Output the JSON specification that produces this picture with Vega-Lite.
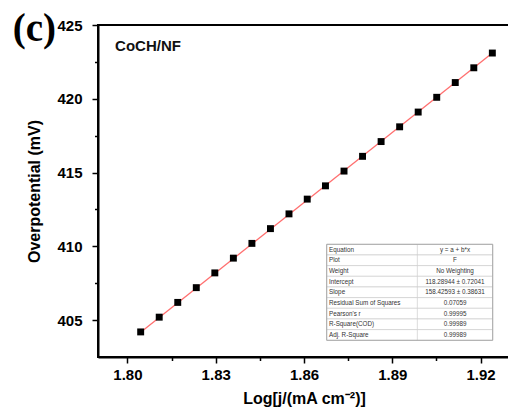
{
  "$schema": "https://vega.github.io/schema/vega-lite/v6.json",
  "width": 412,
  "height": 332,
  "autosize": {"type": "none"},
  "padding": {"left": 98, "top": 25, "right": 0, "bottom": 62},
  "background": "white",
  "config": {
    "view": {"stroke": "black", "strokeWidth": 2},
    "axis": {
      "labelFont": "Liberation Sans", "labelFontWeight": "bold", "labelFontSize": 15, "labelColor": "black",
      "titleFont": "Liberation Sans", "titleFontWeight": "bold", "titleFontSize": 16, "titleColor": "black",
      "domainColor": "black", "domainWidth": 2, "tickColor": "black", "tickWidth": 1.5, "grid": false
    }
  },
  "datasets": {
    "pts": [
      {"logj": 1.8045, "eta": 404.2}, {"logj": 1.8108, "eta": 405.2}, {"logj": 1.8171, "eta": 406.2},
      {"logj": 1.8234, "eta": 407.2}, {"logj": 1.8297, "eta": 408.2}, {"logj": 1.8360, "eta": 409.2},
      {"logj": 1.8423, "eta": 410.2}, {"logj": 1.8486, "eta": 411.2}, {"logj": 1.8549, "eta": 412.2},
      {"logj": 1.8611, "eta": 413.2}, {"logj": 1.8673, "eta": 414.1}, {"logj": 1.8736, "eta": 415.1},
      {"logj": 1.8799, "eta": 416.1}, {"logj": 1.8862, "eta": 417.1}, {"logj": 1.8925, "eta": 418.1},
      {"logj": 1.8988, "eta": 419.1}, {"logj": 1.9051, "eta": 420.1}, {"logj": 1.9114, "eta": 421.1},
      {"logj": 1.9177, "eta": 422.1}, {"logj": 1.9240, "eta": 423.1}
    ],
    "fit": [{"logj": 1.8045, "eta": 404.17}, {"logj": 1.9240, "eta": 423.10}],
    "table": [
      {"name": "Equation", "value": "y = a + b*x"},
      {"name": "Plot", "value": "F"},
      {"name": "Weight", "value": "No Weighting"},
      {"name": "Intercept", "value": "118.28944 ± 0.72041"},
      {"name": "Slope", "value": "158.42593 ± 0.38631"},
      {"name": "Residual Sum of Squares", "value": "0.07059"},
      {"name": "Pearson's r", "value": "0.99995"},
      {"name": "R-Square(COD)", "value": "0.99989"},
      {"name": "Adj. R-Square", "value": "0.99989"}
    ]
  },
  "layer": [
    {
      "layer": [
        {
          "data": {"name": "fit"},
          "mark": {"type": "line", "color": "#ff6f6f", "strokeWidth": 1.3},
          "encoding": {
            "x": {"field": "logj", "type": "quantitative", "scale": {"domain": [1.79, 1.93], "nice": false, "zero": false},
                  "axis": {"orient": "bottom", "values": [1.80, 1.815, 1.83, 1.845, 1.86, 1.875, 1.89, 1.905, 1.92],
                           "labelExpr": "round(datum.value*100) % 3 == 0 ? format(datum.value, '.2f') : ''",
                           "tickSize": {"condition": {"test": "round(datum.value*100) % 3 == 0", "value": 6}, "value": 3.5},
                           "labelPadding": 4, "title": "Log[j/(mA cm⁻²)]", "titlePadding": 8}},
            "y": {"field": "eta", "type": "quantitative", "scale": {"domain": [402.5, 425], "nice": false, "zero": false},
                  "axis": {"orient": "left", "values": [405, 407.5, 410, 412.5, 415, 417.5, 420, 422.5, 425],
                           "labelExpr": "datum.value % 5 == 0 ? datum.label : ''",
                           "tickSize": {"condition": {"test": "datum.value % 5 == 0", "value": 6}, "value": 3.5},
                           "labelPadding": 10, "title": "Overpotential (mV)", "titlePadding": 14}}
          }
        },
        {
          "data": {"name": "pts"},
          "mark": {"type": "square", "color": "black", "filled": true, "opacity": 1, "size": 48},
          "encoding": {
            "x": {"field": "logj", "type": "quantitative", "scale": {"domain": [1.79, 1.93], "nice": false, "zero": false}, "axis": null},
            "y": {"field": "eta", "type": "quantitative", "scale": {"domain": [402.5, 425], "nice": false, "zero": false}, "axis": null}
          }
        },
        {
          "data": {"values": [{"label": "CoCH/NF"}]},
          "mark": {"type": "text", "font": "Liberation Sans", "fontWeight": "bold", "fontSize": 15, "align": "left", "baseline": "middle", "color": "#111"},
          "encoding": {
            "x": {"datum": 1.7958, "type": "quantitative", "axis": null},
            "y": {"datum": 423.55, "type": "quantitative", "axis": null},
            "text": {"field": "label"}
          }
        },
        {
          "data": {"values": [{"label": "(c)"}]},
          "mark": {"type": "text", "font": "Liberation Serif", "fontWeight": "bold", "fontSize": 39, "align": "center", "baseline": "alphabetic", "color": "black"},
          "encoding": {
            "x": {"datum": 1.7684, "type": "quantitative", "axis": null},
            "y": {"datum": 423.9, "type": "quantitative", "axis": null},
            "text": {"field": "label"}
          }
        }
      ],
      "resolve": {"axis": {"x": "independent", "y": "independent"}}
    },
    {
      "data": {"name": "table"},
      "layer": [
        {
          "mark": {"type": "rect", "fill": "white", "stroke": "#cfcfcf", "strokeWidth": 0.7},
          "encoding": {
            "x": {"datum": 0, "type": "quantitative", "scale": {"domain": [0, 1], "range": [228.7, 394.7]}, "axis": null},
            "x2": {"datum": 1},
            "y": {"field": "name", "type": "nominal", "sort": null,
                  "scale": {"type": "band", "range": [219.3, 315.3], "paddingInner": 0, "paddingOuter": 0}, "axis": null}
          }
        },
        {
          "mark": {"type": "rule", "color": "#cfcfcf", "strokeWidth": 0.7},
          "encoding": {
            "x": {"datum": 0.546, "type": "quantitative", "axis": null},
            "y": {"field": "name", "type": "nominal", "sort": null, "axis": null, "bandPosition": 0},
            "y2": {"field": "name", "bandPosition": 1}
          }
        },
        {
          "mark": {"type": "text", "font": "Liberation Sans", "fontSize": 6.3, "align": "left", "baseline": "middle", "color": "#333"},
          "encoding": {
            "x": {"datum": 0.014, "type": "quantitative", "axis": null},
            "y": {"field": "name", "type": "nominal", "sort": null, "axis": null},
            "text": {"field": "name"}
          }
        },
        {
          "mark": {"type": "text", "font": "Liberation Sans", "fontSize": 6.3, "align": "center", "baseline": "middle", "color": "#333"},
          "encoding": {
            "x": {"datum": 0.773, "type": "quantitative", "axis": null},
            "y": {"field": "name", "type": "nominal", "sort": null, "axis": null},
            "text": {"field": "value"}
          }
        },
        {
          "data": {"values": [{"box": "border"}]},
          "mark": {"type": "rect", "fill": null, "fillOpacity": 0, "stroke": "#a8a8a8", "strokeWidth": 1},
          "encoding": {
            "x": {"datum": 0, "type": "quantitative", "axis": null},
            "x2": {"datum": 1},
            "y": {"datum": "Equation", "type": "nominal", "axis": null, "bandPosition": 0},
            "y2": {"datum": "Adj. R-Square", "bandPosition": 1}
          }
        }
      ]
    }
  ],
  "resolve": {"scale": {"x": "independent", "y": "independent"}}
}
